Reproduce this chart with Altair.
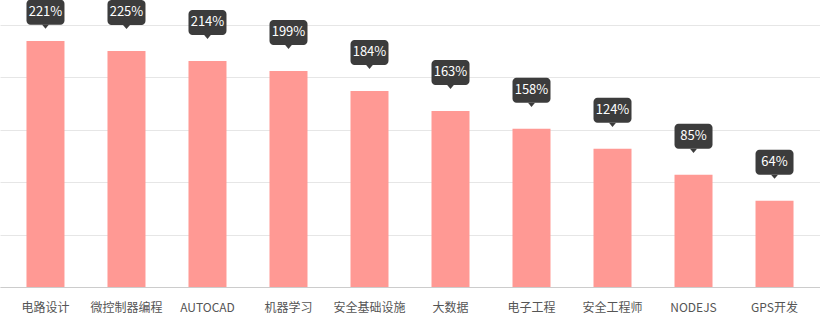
import altair as alt
import pandas as pd

categories = ["电路设计", "微控制器编程", "AUTOCAD", "机器学习", "安全基础设施",
              "大数据", "电子工程", "安全工程师", "NODEJS", "GPS开发"]
bar_values = [234.7, 225.2, 215.7, 206.2, 187.1, 168.0, 150.9, 131.8, 107.0, 82.3]
label_values = [221, 225, 214, 199, 184, 163, 158, 124, 85, 64]

df = pd.DataFrame({
    "cat": categories,
    "v": bar_values,
    "label": [f"{p}%" for p in label_values],
})

FONT = "Noto Sans CJK SC"

x = alt.X("cat:N", sort=categories, title=None,
          scale=alt.Scale(paddingInner=0.531, paddingOuter=0.327),
          axis=alt.Axis(labelAngle=0, ticks=False, domainColor="#cccccc",
                        labelColor="#555555", labelFont=FONT, labelFontSize=12,
                        labelPadding=15, grid=False))
y = alt.Y("v:Q", title=None,
          scale=alt.Scale(domain=[0, 250], nice=False),
          axis=alt.Axis(values=[0, 50, 100, 150, 200, 250], labels=False,
                        ticks=False, domain=False, gridColor="#e6e6e6"))

base = alt.Chart(df)

bars = base.mark_bar(color="#ff9994", width=38).encode(x=x, y=y)

lab = base.transform_calculate(lv="min(datum.v, 225.5)")

xo = alt.X("cat:N", sort=categories)
yo = alt.Y("lv:Q")

box = lab.mark_bar(color="#3c3c3c", width=38, cornerRadius=4,
                   yOffset=-51, y2Offset=-26).encode(
    x=xo, y=yo, y2=alt.Y2("lv:Q"),
)

tri = lab.mark_point(shape="M-1,-0.6L1,-0.6L0,0.6Z", filled=True, opacity=1,
                     color="#3c3c3c", size=49, yOffset=-24).encode(
    x=xo, y=yo,
)

txt = lab.mark_text(color="#ffffff", font=FONT, fontSize=13, baseline="middle",
                    align="center", yOffset=-38.5).encode(
    x=xo, y=yo, text="label:N",
)

chart = alt.layer(bars, box, tri, txt).properties(
    width=820, height=262,
    background="#ffffff",
    autosize=alt.AutoSizeParams(type="none"),
    padding={"top": 25, "bottom": 29, "left": 0, "right": 0},
).configure_view(stroke="transparent", strokeWidth=0).configure_axisY(
    domain=False, ticks=False, labels=False
)

chart.save("out.html", embed_options={"renderer": "svg", "actions": False})
